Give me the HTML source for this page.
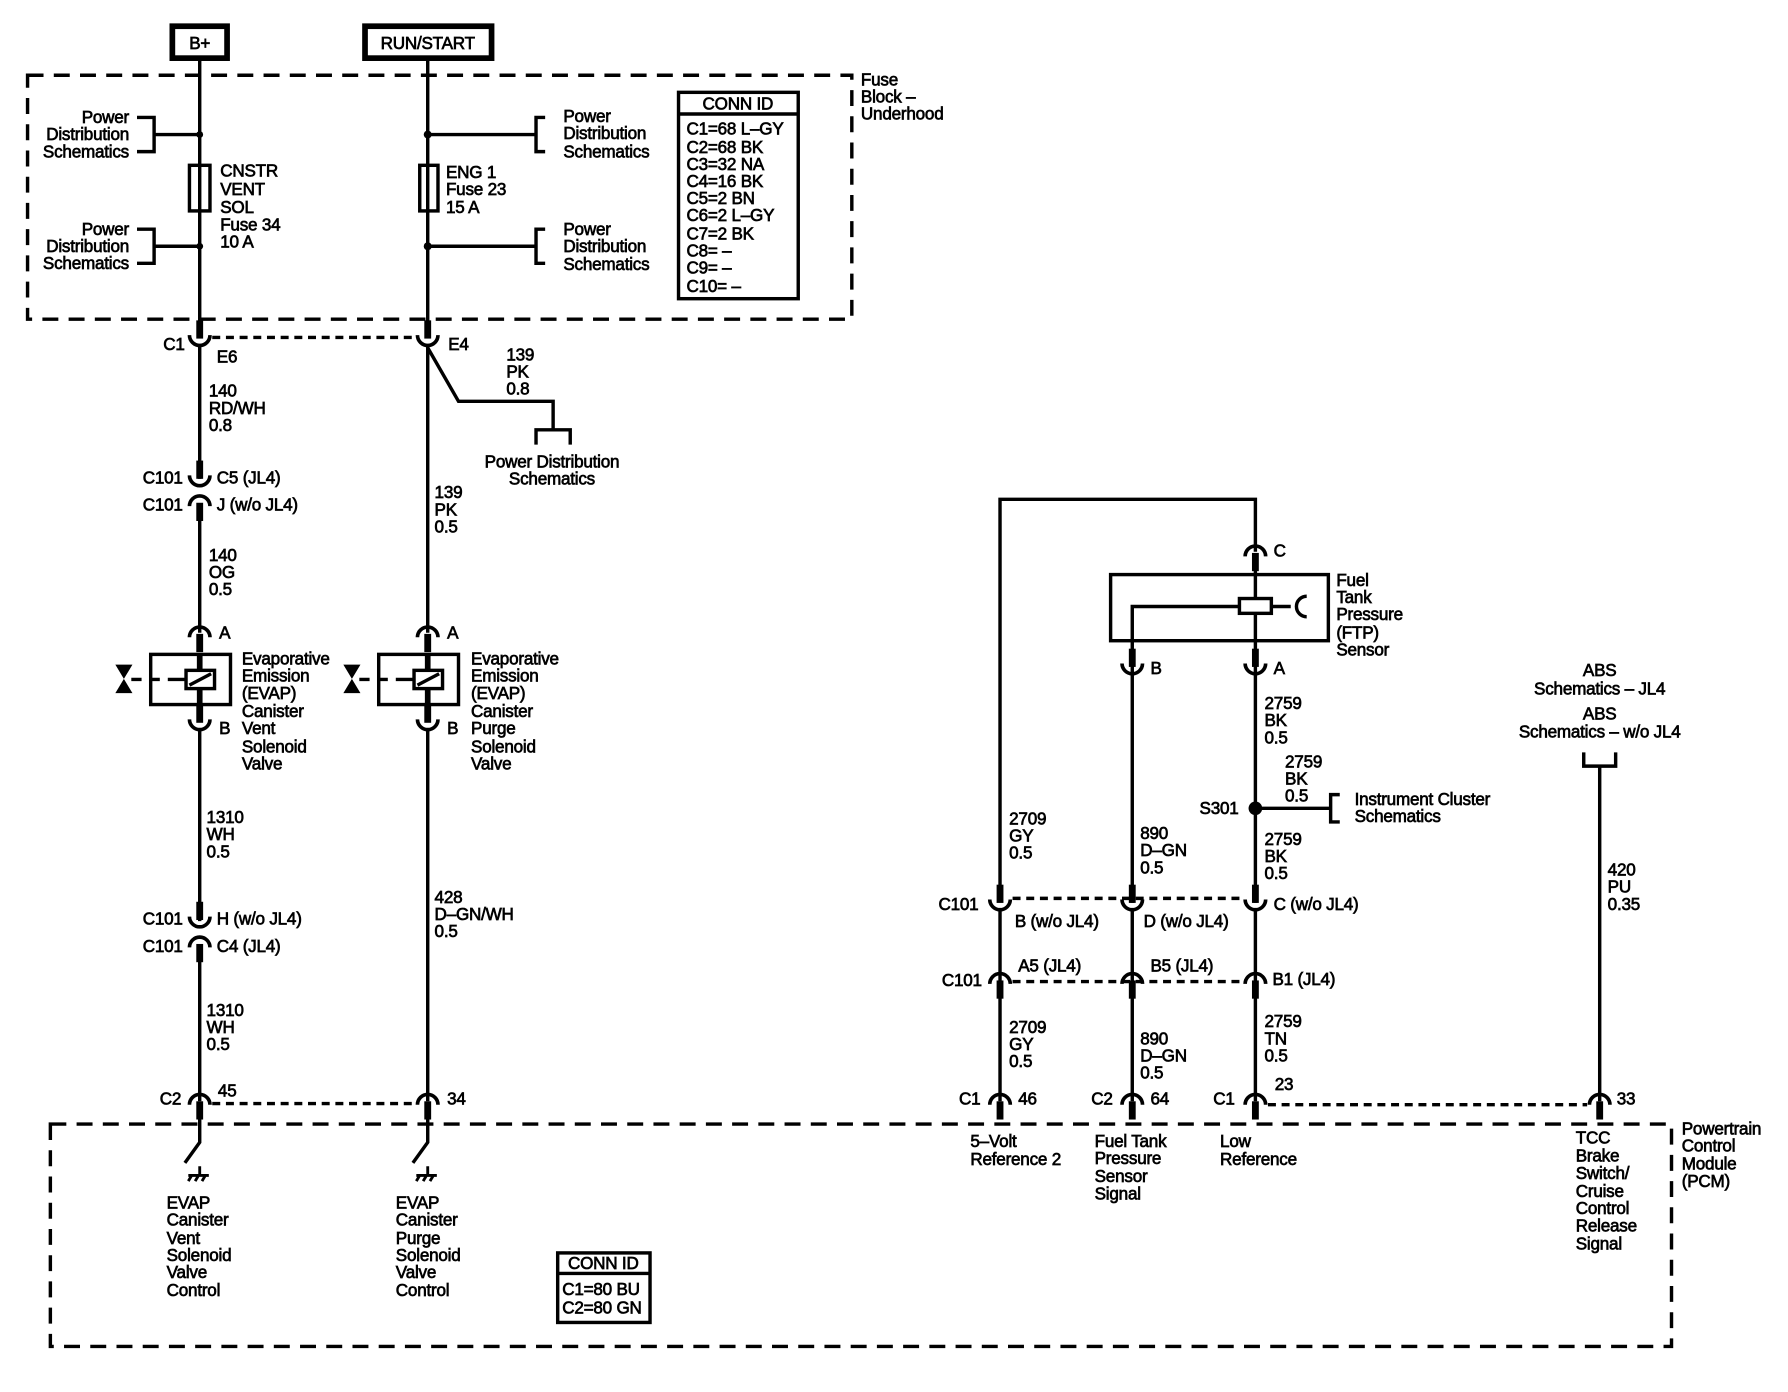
<!DOCTYPE html>
<html><head><meta charset="utf-8"><style>
html,body{margin:0;padding:0;background:#fff}
svg{display:block}
text{font-family:"Liberation Sans",sans-serif;font-size:15px;letter-spacing:-0.2px;fill:#000;stroke:#000;stroke-width:0.6}
.w{stroke:#000;stroke-width:3;fill:none}
.d{stroke:#000;stroke-width:3;fill:none;stroke-dasharray:14 9}
.sd{stroke:#000;stroke-width:3;fill:none;stroke-dasharray:7 5}
.e{text-anchor:end}.m{text-anchor:middle}
</style></head><body>
<svg width="1788" height="1392" viewBox="0 0 1568 1221" xmlns="http://www.w3.org/2000/svg">
<defs>
<g id="cu"><path d="M-9,-3 A9,9 0 0 0 9,-3" stroke="#000" stroke-width="3.2" fill="none"/><rect x="-3" y="-16" width="6" height="16"/></g>
<g id="cn"><path d="M-9,3 A9,9 0 0 1 9,3" stroke="#000" stroke-width="3.2" fill="none"/><rect x="-3" y="0" width="6" height="16"/></g>
</defs>
<rect x="151" y="23" width="48" height="28" fill="none" stroke="#000" stroke-width="5"/>
<text x="175" y="43" class="m">B+</text>
<rect x="320" y="23" width="111" height="28" fill="none" stroke="#000" stroke-width="5"/>
<text x="375" y="43" class="m">RUN/START</text>
<rect x="24" y="66" width="723" height="214" class="d"/>
<text x="755" y="75">Fuse</text><text x="755" y="90">Block –</text><text x="755" y="105">Underhood</text>
<line x1="175" y1="51" x2="175" y2="290" class="w"/>
<rect x="166" y="145" width="18" height="40" fill="#fff" stroke="#000" stroke-width="3"/>
<line x1="175" y1="145" x2="175" y2="185" class="w"/>
<text x="193" y="155">CNSTR</text><text x="193" y="171">VENT</text><text x="193" y="187">SOL</text><text x="193" y="202">Fuse 34</text><text x="193" y="217">10 A</text>
<text x="113" y="108" class="e">Power</text><text x="113" y="123" class="e">Distribution</text><text x="113" y="138" class="e">Schematics</text>
<path d="M120,103 H135 V133 H120 M135,118 H175" class="w"/>
<text x="113" y="206" class="e">Power</text><text x="113" y="221" class="e">Distribution</text><text x="113" y="236" class="e">Schematics</text>
<path d="M120,201 H135 V231 H120 M135,216 H175" class="w"/>
<circle cx="175" cy="118" r="3"/><circle cx="175" cy="216" r="3"/>
<line x1="375" y1="51" x2="375" y2="290" class="w"/>
<rect x="368" y="145" width="16" height="40" fill="#fff" stroke="#000" stroke-width="3"/>
<line x1="375" y1="145" x2="375" y2="185" class="w"/>
<text x="391" y="156">ENG 1</text><text x="391" y="171">Fuse 23</text><text x="391" y="187">15 A</text>
<path d="M375,118 H470 M478,103 H470 V133 H478 M375,216 H470 M478,201 H470 V231 H478" class="w"/>
<circle cx="375" cy="118" r="3.5"/><circle cx="375" cy="216" r="3.5"/>
<text x="494" y="107">Power</text><text x="494" y="122">Distribution</text><text x="494" y="138">Schematics</text>
<text x="494" y="206">Power</text><text x="494" y="221">Distribution</text><text x="494" y="237">Schematics</text>
<rect x="595" y="81" width="105" height="181" fill="none" stroke="#000" stroke-width="3"/>
<line x1="595" y1="100" x2="700" y2="100" class="w"/>
<text x="647" y="96" class="m">CONN ID</text>
<text x="602" y="118">C1=68 L–GY</text><text x="602" y="134">C2=68 BK</text><text x="602" y="149">C3=32 NA</text><text x="602" y="164">C4=16 BK</text><text x="602" y="179">C5=2 BN</text><text x="602" y="194">C6=2 L–GY</text><text x="602" y="210">C7=2 BK</text><text x="602" y="225">C8= –</text><text x="602" y="240">C9= –</text><text x="602" y="256">C10= –</text>
<use href="#cu" x="175" y="297"/><use href="#cu" x="375" y="297"/>
<line x1="186" y1="296" x2="364" y2="296" class="sd"/>
<text x="143" y="307">C1</text><text x="190" y="318">E6</text><text x="393" y="307">E4</text>
<line x1="175" y1="303" x2="175" y2="420" class="w"/>
<text x="183" y="348">140</text><text x="183" y="363">RD/WH</text><text x="183" y="378">0.8</text>
<path d="M375,305 L402,352 H485 V377 M470,390 V377 H500 V390" class="w"/>
<text x="444" y="316">139</text><text x="444" y="331">PK</text><text x="444" y="346">0.8</text>
<text x="484" y="410" class="m">Power Distribution</text><text x="484" y="425" class="m">Schematics</text>
<use href="#cu" x="175" y="420"/><use href="#cn" x="175" y="441"/>
<text x="125" y="424">C101</text><text x="190" y="424">C5 (JL4)</text>
<text x="125" y="448">C101</text><text x="190" y="448">J (w/o JL4)</text>
<line x1="175" y1="455" x2="175" y2="555" class="w"/>
<text x="183" y="492">140</text><text x="183" y="507">OG</text><text x="183" y="522">0.5</text>
<line x1="375" y1="303" x2="375" y2="555" class="w"/>
<text x="381" y="437">139</text><text x="381" y="452">PK</text><text x="381" y="467">0.5</text>
<g id="sol">
<use href="#cn" x="175" y="556"/>
<rect x="132" y="574" width="70" height="44" fill="none" stroke="#000" stroke-width="3"/>
<line x1="175" y1="574" x2="175" y2="618" stroke="#000" stroke-width="5"/>
<rect x="163" y="588" width="25" height="16" fill="#fff" stroke="#000" stroke-width="3"/>
<line x1="166" y1="601" x2="185" y2="591" class="w"/>
<path d="M115,596 H124 M131,596 H140 M147,596 H163" class="w"/>
<path d="M101,583 H116 L101,608 H116 Z" fill="#000"/>
<use href="#cu" x="175" y="634"/>
</g>
<use href="#sol" x="200" y="0"/>
<text x="192" y="560">A</text><text x="192" y="644">B</text>
<text x="392" y="560">A</text><text x="392" y="644">B</text>
<text x="212" y="583">Evaporative</text><text x="212" y="598">Emission</text><text x="212" y="613">(EVAP)</text><text x="212" y="629">Canister</text><text x="212" y="644">Vent</text><text x="212" y="660">Solenoid</text><text x="212" y="675">Valve</text>
<text x="413" y="583">Evaporative</text><text x="413" y="598">Emission</text><text x="413" y="613">(EVAP)</text><text x="413" y="629">Canister</text><text x="413" y="644">Purge</text><text x="413" y="660">Solenoid</text><text x="413" y="675">Valve</text>
<line x1="175" y1="640" x2="175" y2="808" class="w"/>
<text x="181" y="722">1310</text><text x="181" y="737">WH</text><text x="181" y="752">0.5</text>
<use href="#cu" x="175" y="807"/><use href="#cn" x="175" y="828"/>
<text x="125" y="811">C101</text><text x="190" y="811">H (w/o JL4)</text>
<text x="125" y="835">C101</text><text x="190" y="835">C4 (JL4)</text>
<line x1="175" y1="842" x2="175" y2="966" class="w"/>
<text x="181" y="891">1310</text><text x="181" y="906">WH</text><text x="181" y="921">0.5</text>
<line x1="375" y1="640" x2="375" y2="966" class="w"/>
<text x="381" y="792">428</text><text x="381" y="807">D–GN/WH</text><text x="381" y="822">0.5</text>
<use href="#cn" x="175" y="966"/><use href="#cn" x="375" y="966"/>
<line x1="186" y1="968" x2="364" y2="968" class="sd"/>
<text x="140" y="969">C2</text><text x="191" y="962">45</text><text x="392" y="969">34</text>
<rect x="44" y="986" width="1422" height="195" class="d"/>
<text x="1475" y="995">Powertrain</text><text x="1475" y="1010">Control</text><text x="1475" y="1026">Module</text><text x="1475" y="1041">(PCM)</text>
<g id="sw">
<path d="M175,980 V1002 L162,1020" class="w"/>
<path d="M175,1023 V1031 M165,1031 H183 M168,1031 L165,1036 M174,1031 L171,1036 M180,1031 L177,1036" stroke="#000" stroke-width="2.5" fill="none"/>
</g>
<use href="#sw" x="200" y="0"/>
<text x="146" y="1060">EVAP</text><text x="146" y="1075">Canister</text><text x="146" y="1091">Vent</text><text x="146" y="1106">Solenoid</text><text x="146" y="1121">Valve</text><text x="146" y="1137">Control</text>
<text x="347" y="1060">EVAP</text><text x="347" y="1075">Canister</text><text x="347" y="1091">Purge</text><text x="347" y="1106">Solenoid</text><text x="347" y="1121">Valve</text><text x="347" y="1137">Control</text>
<rect x="489" y="1099" width="81" height="61" fill="none" stroke="#000" stroke-width="3"/>
<line x1="489" y1="1117" x2="570" y2="1117" class="w"/>
<text x="529" y="1113" class="m">CONN ID</text>
<text x="493" y="1136">C1=80 BU</text><text x="493" y="1152">C2=80 GN</text>
<path d="M877,790 V438 H1101 V484" class="w"/>
<use href="#cn" x="1101" y="485"/>
<text x="1117" y="488">C</text>
<rect x="974" y="504" width="191" height="58" fill="none" stroke="#000" stroke-width="3"/>
<line x1="1101" y1="500" x2="1101" y2="590" class="w"/>
<path d="M993,590 V532 H1088 M1115,532 H1132" class="w"/>
<rect x="1087" y="525" width="28" height="13" fill="#fff" stroke="#000" stroke-width="3"/>
<path d="M1146,523 A9,9 0 0 0 1146,541" class="w"/>
<text x="1172" y="514">Fuel</text><text x="1172" y="529">Tank</text><text x="1172" y="544">Pressure</text><text x="1172" y="560">(FTP)</text><text x="1172" y="575">Sensor</text>
<use href="#cu" x="993" y="585"/><use href="#cu" x="1101" y="585"/>
<text x="1009" y="591">B</text><text x="1117" y="591">A</text>
<line x1="993" y1="590" x2="993" y2="792" class="w"/>
<line x1="1101" y1="590" x2="1101" y2="792" class="w"/>
<text x="1109" y="622">2759</text><text x="1109" y="637">BK</text><text x="1109" y="652">0.5</text>
<text x="1127" y="673">2759</text><text x="1127" y="688">BK</text><text x="1127" y="703">0.5</text>
<circle cx="1101" cy="709" r="6"/>
<text x="1052" y="714">S301</text>
<path d="M1101,709 H1167 M1175,697 H1167 V721 H1175" class="w"/>
<text x="1188" y="706">Instrument Cluster</text><text x="1188" y="721">Schematics</text>
<text x="1109" y="741">2759</text><text x="1109" y="756">BK</text><text x="1109" y="771">0.5</text>
<text x="885" y="723">2709</text><text x="885" y="738">GY</text><text x="885" y="753">0.5</text>
<text x="1000" y="736">890</text><text x="1000" y="751">D–GN</text><text x="1000" y="766">0.5</text>
<use href="#cu" x="877" y="792"/><use href="#cu" x="993" y="792"/><use href="#cu" x="1101" y="792"/>
<line x1="888" y1="788" x2="1092" y2="788" class="sd"/>
<text x="823" y="798">C101</text><text x="890" y="813">B (w/o JL4)</text><text x="1003" y="813">D (w/o JL4)</text><text x="1117" y="798">C (w/o JL4)</text>
<line x1="877" y1="798" x2="877" y2="860" class="w"/>
<line x1="993" y1="798" x2="993" y2="860" class="w"/>
<line x1="1101" y1="798" x2="1101" y2="860" class="w"/>
<use href="#cn" x="877" y="860"/><use href="#cn" x="993" y="860"/><use href="#cn" x="1101" y="860"/>
<line x1="888" y1="861" x2="1092" y2="861" class="sd"/>
<text x="826" y="865">C101</text><text x="893" y="852">A5 (JL4)</text><text x="1009" y="852">B5 (JL4)</text><text x="1116" y="864">B1 (JL4)</text>
<line x1="877" y1="870" x2="877" y2="966" class="w"/>
<line x1="993" y1="870" x2="993" y2="966" class="w"/>
<line x1="1101" y1="870" x2="1101" y2="966" class="w"/>
<text x="885" y="906">2709</text><text x="885" y="921">GY</text><text x="885" y="936">0.5</text>
<text x="1000" y="916">890</text><text x="1000" y="931">D–GN</text><text x="1000" y="946">0.5</text>
<text x="1109" y="901">2759</text><text x="1109" y="916">TN</text><text x="1109" y="931">0.5</text>
<use href="#cn" x="877" y="966"/><use href="#cn" x="993" y="966"/><use href="#cn" x="1101" y="966"/><use href="#cn" x="1403" y="966"/>
<line x1="1112" y1="969" x2="1392" y2="969" class="sd"/>
<text x="841" y="969">C1</text><text x="893" y="969">46</text><text x="957" y="969">C2</text><text x="1009" y="969">64</text><text x="1064" y="969">C1</text><text x="1118" y="956">23</text><text x="1418" y="969">33</text>
<text x="851" y="1006">5–Volt</text><text x="851" y="1022">Reference 2</text>
<text x="960" y="1006">Fuel Tank</text><text x="960" y="1021">Pressure</text><text x="960" y="1037">Sensor</text><text x="960" y="1052">Signal</text>
<text x="1070" y="1006">Low</text><text x="1070" y="1022">Reference</text>
<text x="1382" y="1003">TCC</text><text x="1382" y="1019">Brake</text><text x="1382" y="1034">Switch/</text><text x="1382" y="1050">Cruise</text><text x="1382" y="1065">Control</text><text x="1382" y="1080">Release</text><text x="1382" y="1096">Signal</text>
<text x="1403" y="593" class="m">ABS</text><text x="1403" y="609" class="m">Schematics – JL4</text>
<text x="1403" y="631" class="m">ABS</text><text x="1403" y="647" class="m">Schematics – w/o JL4</text>
<path d="M1389,660 V672 H1417 V660 M1403,672 V966" class="w"/>
<text x="1410" y="768">420</text><text x="1410" y="783">PU</text><text x="1410" y="798">0.35</text>
</svg>
</body></html>
